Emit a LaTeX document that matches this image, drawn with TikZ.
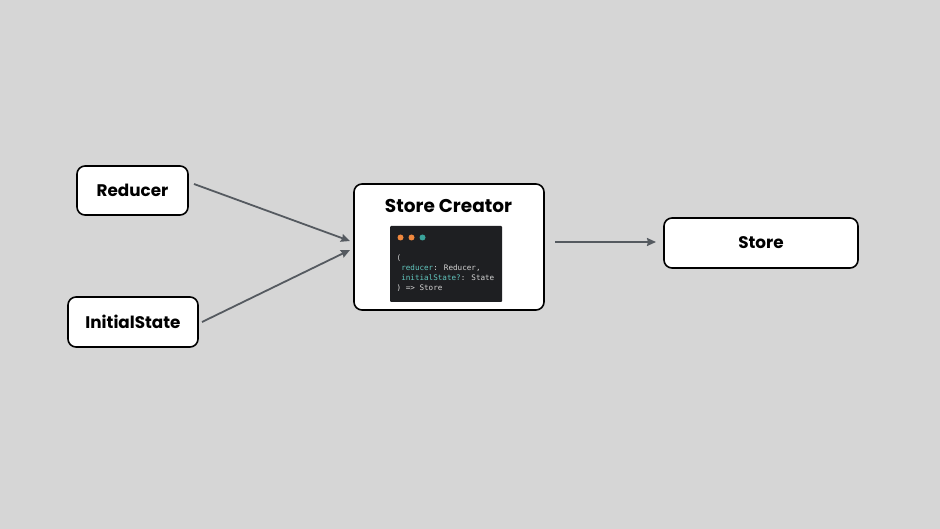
\documentclass[tikz,border=0pt]{standalone}
\usepackage{fontspec}
\setmainfont{Poppins}
\newfontfamily\codefont{DejaVu Sans Mono}
\usetikzlibrary{arrows.meta}
\definecolor{bg}{HTML}{D6D6D6}
\definecolor{arrowc}{HTML}{555A60}
\definecolor{panel}{HTML}{1E1F22}
\definecolor{dotor}{HTML}{F0883E}
\definecolor{dottl}{HTML}{3AA39B}
\definecolor{codekey}{HTML}{62C6BE}
\definecolor{codetxt}{HTML}{D4D4D4}
\tikzset{
  box/.style={draw=black, line width=1.6pt, fill=white, rounded corners=8pt, inner sep=0pt},
  lbl/.style={font=\bfseries\fontsize{16.8}{19}\selectfont, text=black},
  conn/.style={draw=arrowc, line width=1.8pt, -{Stealth[length=9pt,width=8pt,inset=1pt]}},
  dot/.style={circle, fill=#1, minimum size=6pt, inner sep=0pt},
  code/.style={font=\codefont\fontsize{7.6}{9.8}\selectfont, text=codetxt, align=left, anchor=north west, inner sep=0pt}
}
\begin{document}
\begin{tikzpicture}[x=1pt,y=-1pt]
\useasboundingbox (0,0) rectangle (940,529);
\fill[bg] (0,0) rectangle (940,529);
% boxes
\node[box, minimum width=111pt, minimum height=49pt] (reducer) at (132.5,190.5) {};
\node[lbl] at (reducer.center) {Reducer};
\node[box, minimum width=130pt, minimum height=50pt] (initial) at (133,322) {};
\node[lbl] at (initial.center) {InitialState};
\node[box, minimum width=190pt, minimum height=126pt] (creator) at (449,247) {};
\node[lbl, font=\bfseries\fontsize{18.5}{20}\selectfont] (ctitle) at (448.5,206) {Store Creator};
\node[box, minimum width=194pt, minimum height=50pt] (store) at (761,243) {};
\node[lbl] at (store.center) {Store};
% code panel
\node[fill=panel, minimum width=112pt, minimum height=76pt, inner sep=0pt, rounded corners=1pt] (panel) at (446,264) {};
\node[dot=dotor] (d1) at (400.5,237.5) {};
\node[dot=dotor] (d2) at (411.5,237.5) {};
\node[dot=dottl] (d3) at (422.5,237.5) {};
\node[code] (codetext) at (396.5,255) {(\\
\textcolor{codekey}{~reducer}: Reducer,\\
\textcolor{codekey}{~initialState?}: State\\
) => Store};
% connectors
\coordinate (r1) at (194,184);
\coordinate (r2) at (350,241);
\coordinate (i1) at (202,322);
\coordinate (i2) at (350,250);
\coordinate (c1) at (555,242);
\coordinate (c2) at (656,242);
\draw[conn] (r1) -- (r2);
\draw[conn] (i1) -- (i2);
\draw[conn] (c1) -- (c2);
\end{tikzpicture}
\end{document}
